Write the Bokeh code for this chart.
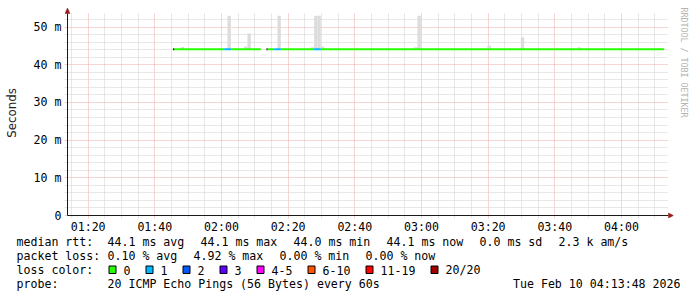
import math
from bokeh.plotting import figure
from bokeh.layouts import column
from bokeh.models import FixedTicker, Range1d, Title
from bokeh.core.properties import value
from bokeh.embed import file_html
from bokeh.resources import INLINE

# ---------------- data ----------------
# time axis in minutes after midnight: 01:13:48 -> 04:13:48
t_start, t_end = 73.8, 253.8
y_ticks = [0, 10, 20, 30, 40, 50]
y_tick_labels = ["0", "10 m", "20 m", "30 m", "40 m", "50 m"]
x_ticks = [80, 100, 120, 140, 160, 180, 200, 220, 240]
x_tick_labels = ["01:20", "01:40", "02:00", "02:20", "02:40", "03:00", "03:20", "03:40", "04:00"]

# median RTT runs (minutes) with packet-loss count
run_start = [105.8, 120.8, 122.8, 133.8, 135.8, 137.8, 147.8, 149.8]
run_end = [120.8, 122.8, 131.8, 135.8, 137.8, 147.8, 149.8, 252.8]
run_median = [44.1, 44.1, 44.1, 44.1, 44.1, 44.1, 44.1, 44.1]
run_loss = [0, 1, 0, 0, 1, 0, 1, 0]
restart_marks = [105.8, 133.8]

# smoke (ping spread) per 1-minute step
smoke_start = [107.8, 121.8, 126.8, 127.8, 136.8, 146.8, 147.8, 148.8, 149.8,
               177.8, 178.8, 199.8, 209.8, 226.8]
smoke_low = [44.0] * 14
smoke_top = [44.7, 53.0, 44.8, 48.3, 53.0, 44.6, 53.0, 53.0, 44.8,
             44.6, 53.0, 45.1, 47.3, 44.6]

loss_labels = ["0", "1", "2", "3", "4-5", "6-10", "11-19", "20/20"]
loss_colors = ["#26ff00", "#00b8ff", "#0059ff", "#5e00ff", "#ff00ff", "#ff5500", "#ff0000", "#a00000"]

rtt_items = ["44.1 ms avg", "44.1 ms max", "44.0 ms min", "44.1 ms now", "0.0 ms sd", "2.3 k am/s"]
loss_items = ["0.10 % avg", "4.92 % max", "0.00 % min", "0.00 % now"]
probe_text = "20 ICMP Echo Pings (56 Bytes) every 60s"
date_text = "Tue Feb 10 04:13:48 2026"

# ---------------- layout constants ----------------
W = 697
H1 = 236                  # main chart height
H2 = 297 - H1             # legend strip height
PX_MIN = 10.0 / 3.0       # px per minute
PX_MS = 3.77              # px per ms
AX_X, AX_Y = 67, 215      # pixel position of the axes
FL, FR, FT, FB = 64, 673, 7, 218   # frame edges (px)
MONO = "DejaVu Sans Mono"
FS = "11.6px"
CW = 7.0
AXIS_COL = "#1a1a1a"
ARROW_COL = "#9b1c1c"


def tx(px):
    return t_start + (px - AX_X) / PX_MIN


def my(py):
    return (AX_Y - py) / PX_MS


p = figure(width=W, height=H1, output_backend="svg", toolbar_location=None,
           x_range=Range1d(tx(FL), tx(FR)), y_range=Range1d(my(FB), my(FT)),
           frame_width=FR - FL, frame_height=FB - FT,
           min_border_left=FL, min_border_right=W - FR, min_border_top=FT,
           min_border_bottom=H1 - FB)
p.outline_line_color = None
p.background_fill_color = "white"
p.border_fill_color = "white"

# axes (labels only; the axis lines are drawn at the data origin below)
p.xaxis.ticker = FixedTicker(ticks=x_ticks, minor_ticks=[])
p.xaxis.major_label_overrides = {t: l for t, l in zip(x_ticks, x_tick_labels)}
p.yaxis.ticker = FixedTicker(ticks=y_ticks, minor_ticks=[])
p.yaxis.major_label_overrides = {t: l for t, l in zip(y_ticks, y_tick_labels)}
for ax in (p.xaxis, p.yaxis):
    ax.axis_line_color = None
    ax.major_tick_line_color = None
    ax.minor_tick_line_color = None
    ax.major_tick_in = 0
    ax.major_tick_out = 0
    ax.minor_tick_in = 0
    ax.minor_tick_out = 0
    ax.major_label_text_font = MONO
    ax.major_label_text_font_size = FS
    ax.major_label_text_color = "#000000"
p.xaxis.major_label_standoff = 1
p.yaxis.major_label_standoff = 3
p.yaxis.axis_label = "Seconds"
p.yaxis.axis_label_text_font = "DejaVu Sans"
p.yaxis.axis_label_text_font_size = "11.8px"
p.yaxis.axis_label_text_font_style = "normal"
p.yaxis.axis_label_text_color = "#222222"
p.yaxis.axis_label_standoff = 12

# grid: major (20 min / 10 ms) reddish, minor (5 min / 2 ms) grey, dotted
p.xgrid.ticker = FixedTicker(ticks=x_ticks,
                             minor_ticks=[m for m in range(75, 255, 5) if m not in x_ticks])
p.ygrid.ticker = FixedTicker(ticks=y_ticks,
                             minor_ticks=[m for m in range(2, 54, 2) if m not in y_ticks])
for g in (p.xgrid, p.ygrid):
    g.grid_line_color = "#eeaaaa"
    g.grid_line_dash = "1 1"
    g.minor_grid_line_color = "#d0d0d0"
    g.minor_grid_line_dash = "1 1"
try:
    p.xgrid[0].cross_bounds = (my(FB), my(13))
    p.ygrid[0].cross_bounds = (tx(FL), tx(668))
except Exception:
    pass

# smoke
p.quad(left=smoke_start, right=[s + 1 for s in smoke_start], bottom=smoke_low, top=smoke_top,
       fill_color="#dcdcdc", line_color=None)

# median line coloured by loss
p.segment(x0=run_start, x1=run_end, y0=run_median, y1=run_median,
          line_color=[loss_colors[l] for l in run_loss], line_width=2)
p.segment(x0=[s - 0.3 for s in restart_marks], x1=restart_marks,
          y0=[run_median[0]] * len(restart_marks), y1=[run_median[0]] * len(restart_marks),
          line_color="black", line_width=2)

# axis lines with arrow heads
p.segment(x0=[t_start, t_start], y0=[0, 0], x1=[tx(668), t_start], y1=[0, my(13)],
          line_color=AXIS_COL, line_width=1)
p.patches(xs=[[tx(AX_X - 2.5), tx(AX_X + 2.5), t_start], [tx(668), tx(668), tx(673)]],
          ys=[[my(13), my(13), my(7.5)], [my(AX_Y - 2.5), my(AX_Y + 2.5), 0]],
          fill_color=ARROW_COL, line_color=ARROW_COL, line_width=0.5)

# watermark on the right side
p.add_layout(Title(text="RRDTOOL / TOBI OETIKER", align="left", text_font=MONO,
                   text_font_size="8.3px", text_font_style="normal", text_color="#b4b4b4",
                   standoff=11, offset=0), "right")

# ---------------- legend strip ----------------
q = figure(width=W, height=H2, output_backend="svg", toolbar_location=None,
           x_range=Range1d(0, W), y_range=Range1d(297, H1),
           frame_width=W, frame_height=H2,
           x_axis_location=None, y_axis_location=None,
           min_border_left=0, min_border_right=0, min_border_top=0, min_border_bottom=0)
q.outline_line_color = None
q.grid.visible = False
q.background_fill_color = "white"
q.border_fill_color = "white"

for fig in (p, q):
    try:
        fig.frame_align = False
    except Exception:
        pass

L1, L2, L3, L4 = 241.5, 255.5, 269.5, 283.5
X0, XV, GAP = 16, 107, 16

tx_, ty_, tt_ = [], [], []


def add(x, y, t):
    tx_.append(x)
    ty_.append(y)
    tt_.append(t)


add(X0, L1, "median rtt:")
x = XV
for item in rtt_items:
    add(x, L1, item)
    x += len(item) * CW + GAP

add(X0, L2, "packet loss:")
x = XV
for item in loss_items:
    add(x, L2, item)
    x += len(item) * CW + GAP

add(X0, L3, "loss color:")
bl, br = [], []
x = 108
for lab in loss_labels:
    bl.append(x + 0.5)
    br.append(x + 7.5)
    add(x + 15, L3, lab)
    x += 15 + len(lab) * CW + 15

add(X0, L4, "probe:")
add(XV, L4, probe_text)

q.text(x=tx_, y=ty_, text=tt_, text_font=value(MONO), text_font_size=value(FS),
       text_color="#000000", text_align="left", text_baseline="middle")
q.text(x=[680], y=[L4], text=[date_text], text_font=value(MONO), text_font_size=value(FS),
       text_color="#000000", text_align="right", text_baseline="middle")
q.quad(left=bl, right=br, top=[L3 - 4] * len(bl), bottom=[L3 + 3.5] * len(bl),
       fill_color=loss_colors, line_color="black", line_width=1)

open("out.html", "w").write(file_html(column(p, q, spacing=0), INLINE))
